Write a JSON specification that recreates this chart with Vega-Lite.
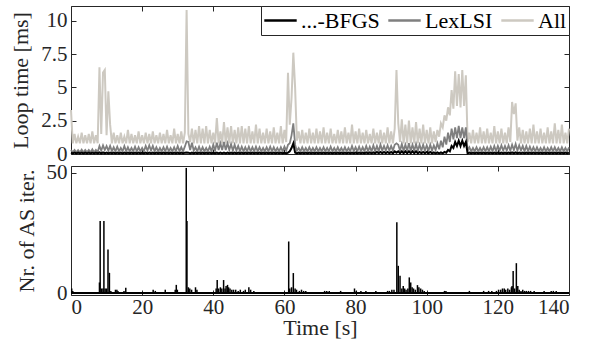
{
"$schema": "https://vega.github.io/schema/vega-lite/v6.json",
"padding": {"left": 9, "top": 5, "right": 20, "bottom": 5},
"background": "white",
"bounds": "flush",
"config": {
  "font": "Liberation Serif",
  "view": {"stroke": "#262626", "strokeWidth": 1},
  "axis": {"labelFont": "Liberation Serif", "labelFontSize": 21, "labelColor": "#262626", "titleFont": "Liberation Serif", "titleFontSize": 22, "titleFontWeight": "normal", "titleColor": "#262626", "grid": false, "domain": false, "tickColor": "#262626", "tickSize": -5, "tickWidth": 1, "labelPadding": 9, "titlePadding": 8},
  "legend": {"orient": "top-right", "offset": 0, "direction": "horizontal", "labelFont": "Liberation Serif", "labelFontSize": 22, "labelColor": "#000000", "symbolType": "stroke", "symbolSize": 1050, "symbolStrokeWidth": 2.5, "strokeColor": "#262626", "fillColor": "white", "padding": 2, "columnPadding": 7, "labelOffset": 3, "clipHeight": 25}
},
"datasets": {
"top": [
{"t":0,"A":3.3,"L":0.3,"B":0.1},{"t":0.5,"A":0.8,"L":0.12,"B":0.04},{"t":1,"A":1.5,"L":0.3,"B":0.1},{"t":1.5,"A":0.8,"L":0.12,"B":0.04},
{"t":2,"A":1.3,"L":0.28,"B":0.1},{"t":2.5,"A":0.8,"L":0.12,"B":0.04},{"t":3,"A":1.6,"L":0.32,"B":0.1},{"t":3.5,"A":0.8,"L":0.12,"B":0.04},
{"t":4,"A":1.4,"L":0.3,"B":0.1},{"t":4.5,"A":0.8,"L":0.12,"B":0.04},{"t":5,"A":1.5,"L":0.3,"B":0.1},{"t":5.5,"A":0.8,"L":0.12,"B":0.04},
{"t":6,"A":1.7,"L":0.35,"B":0.1},{"t":6.5,"A":0.8,"L":0.12,"B":0.04},{"t":7,"A":1.4,"L":0.3,"B":0.1},{"t":7.5,"A":0.8,"L":0.15,"B":0.04},
{"t":8,"A":6.5,"L":0.6,"B":0.12},{"t":8.5,"A":1.5,"L":0.25,"B":0.04},{"t":9,"A":6.1,"L":0.65,"B":0.12},{"t":9.5,"A":6.3,"L":0.3,"B":0.04},
{"t":10,"A":1.4,"L":0.6,"B":0.1},{"t":10.5,"A":4.7,"L":0.25,"B":0.04},{"t":11,"A":2.2,"L":0.6,"B":0.1},{"t":11.5,"A":0.8,"L":0.2,"B":0.04},
{"t":12,"A":1.6,"L":0.5,"B":0.1},{"t":12.5,"A":0.8,"L":0.2,"B":0.04},{"t":13,"A":1.4,"L":0.55,"B":0.1},{"t":13.5,"A":0.8,"L":0.2,"B":0.04},
{"t":14,"A":1.6,"L":0.45,"B":0.1},{"t":14.5,"A":0.8,"L":0.2,"B":0.04},{"t":15,"A":1.3,"L":0.6,"B":0.1},{"t":15.5,"A":0.8,"L":0.2,"B":0.04},
{"t":16,"A":1.8,"L":0.5,"B":0.1},{"t":16.5,"A":0.8,"L":0.2,"B":0.04},{"t":17,"A":1.5,"L":0.45,"B":0.1},{"t":17.5,"A":0.8,"L":0.2,"B":0.04},
{"t":18,"A":1.4,"L":0.55,"B":0.1},{"t":18.5,"A":0.8,"L":0.2,"B":0.04},{"t":19,"A":1.7,"L":0.5,"B":0.1},{"t":19.5,"A":0.8,"L":0.2,"B":0.04},
{"t":20,"A":1.4,"L":0.45,"B":0.1},{"t":20.5,"A":0.8,"L":0.2,"B":0.04},{"t":21,"A":1.6,"L":0.6,"B":0.1},{"t":21.5,"A":0.8,"L":0.25,"B":0.04},
{"t":22,"A":1.5,"L":0.65,"B":0.1},{"t":22.5,"A":0.8,"L":0.25,"B":0.04},{"t":23,"A":1.7,"L":0.6,"B":0.1},{"t":23.5,"A":0.8,"L":0.2,"B":0.04},
{"t":24,"A":1.4,"L":0.5,"B":0.1},{"t":24.5,"A":0.8,"L":0.2,"B":0.04},{"t":25,"A":1.6,"L":0.45,"B":0.1},{"t":25.5,"A":0.8,"L":0.2,"B":0.04},
{"t":26,"A":1.5,"L":0.5,"B":0.1},{"t":26.5,"A":0.8,"L":0.2,"B":0.04},{"t":27,"A":1.8,"L":0.55,"B":0.1},{"t":27.5,"A":0.8,"L":0.2,"B":0.04},
{"t":28,"A":1.4,"L":0.45,"B":0.1},{"t":28.5,"A":0.8,"L":0.2,"B":0.04},{"t":29,"A":1.9,"L":0.5,"B":0.1},{"t":29.5,"A":0.8,"L":0.2,"B":0.04},
{"t":30,"A":1.5,"L":0.6,"B":0.1},{"t":30.5,"A":0.8,"L":0.2,"B":0.04},{"t":31,"A":1.7,"L":0.5,"B":0.1},{"t":31.5,"A":0.8,"L":0.2,"B":0.04},
{"t":32,"A":1.6,"L":0.55,"B":0.1},{"t":32.5,"A":10.8,"L":0.95,"B":0.12},{"t":33,"A":1.5,"L":0.9,"B":0.1},{"t":33.5,"A":0.9,"L":0.3,"B":0.04},
{"t":34,"A":1.9,"L":0.85,"B":0.1},{"t":34.5,"A":0.8,"L":0.25,"B":0.04},{"t":35,"A":1.8,"L":0.5,"B":0.1},{"t":35.5,"A":0.8,"L":0.2,"B":0.04},
{"t":36,"A":2.1,"L":0.55,"B":0.1},{"t":36.5,"A":0.8,"L":0.2,"B":0.04},{"t":37,"A":1.9,"L":0.5,"B":0.1},{"t":37.5,"A":0.8,"L":0.2,"B":0.04},
{"t":38,"A":2.1,"L":0.45,"B":0.1},{"t":38.5,"A":0.8,"L":0.2,"B":0.04},{"t":39,"A":1.8,"L":0.55,"B":0.1},{"t":39.5,"A":0.8,"L":0.2,"B":0.04},
{"t":40,"A":1.6,"L":0.7,"B":0.1},{"t":40.5,"A":0.8,"L":0.25,"B":0.04},{"t":41,"A":2.7,"L":0.85,"B":0.1},{"t":41.5,"A":0.8,"L":0.3,"B":0.04},
{"t":42,"A":1.7,"L":0.8,"B":0.1},{"t":42.5,"A":0.8,"L":0.3,"B":0.04},{"t":43,"A":2.4,"L":0.9,"B":0.1},{"t":43.5,"A":0.8,"L":0.3,"B":0.04},
{"t":44,"A":2.0,"L":0.8,"B":0.1},{"t":44.5,"A":0.8,"L":0.3,"B":0.04},{"t":45,"A":2.1,"L":0.75,"B":0.1},{"t":45.5,"A":0.8,"L":0.25,"B":0.04},
{"t":46,"A":1.8,"L":0.7,"B":0.1},{"t":46.5,"A":0.8,"L":0.25,"B":0.04},{"t":47,"A":2.0,"L":0.6,"B":0.1},{"t":47.5,"A":0.8,"L":0.2,"B":0.04},
{"t":48,"A":2.1,"L":0.55,"B":0.1},{"t":48.5,"A":0.8,"L":0.2,"B":0.04},{"t":49,"A":1.9,"L":0.5,"B":0.1},{"t":49.5,"A":0.8,"L":0.2,"B":0.04},
{"t":50,"A":2.1,"L":0.55,"B":0.1},{"t":50.5,"A":0.8,"L":0.2,"B":0.04},{"t":51,"A":1.7,"L":0.5,"B":0.1},{"t":51.5,"A":0.8,"L":0.2,"B":0.04},
{"t":52,"A":2.2,"L":0.55,"B":0.1},{"t":52.5,"A":0.8,"L":0.2,"B":0.04},{"t":53,"A":1.9,"L":0.5,"B":0.1},{"t":53.5,"A":0.8,"L":0.2,"B":0.04},
{"t":54,"A":1.6,"L":0.45,"B":0.1},{"t":54.5,"A":0.8,"L":0.2,"B":0.04},{"t":55,"A":1.9,"L":0.5,"B":0.1},{"t":55.5,"A":0.8,"L":0.2,"B":0.04},
{"t":56,"A":1.7,"L":0.55,"B":0.1},{"t":56.5,"A":0.8,"L":0.2,"B":0.04},{"t":57,"A":2.0,"L":0.5,"B":0.1},{"t":57.5,"A":0.8,"L":0.2,"B":0.04},
{"t":58,"A":1.6,"L":0.45,"B":0.1},{"t":58.5,"A":0.8,"L":0.2,"B":0.04},{"t":59,"A":2.1,"L":0.5,"B":0.1},{"t":59.5,"A":0.8,"L":0.2,"B":0.04},
{"t":60,"A":1.8,"L":0.55,"B":0.1},{"t":60.5,"A":0.9,"L":0.25,"B":0.04},{"t":61,"A":6.1,"L":0.7,"B":0.1},{"t":61.5,"A":2.2,"L":0.8,"B":0.2},
{"t":62,"A":4.2,"L":1.4,"B":0.45},{"t":62.5,"A":7.6,"L":2.3,"B":0.8},{"t":63,"A":5.0,"L":0.7,"B":0.1},{"t":63.5,"A":1.0,"L":0.25,"B":0.04},
{"t":64,"A":1.7,"L":0.45,"B":0.1},{"t":64.5,"A":0.8,"L":0.2,"B":0.04},{"t":65,"A":1.8,"L":0.5,"B":0.1},{"t":65.5,"A":0.8,"L":0.2,"B":0.04},
{"t":66,"A":1.6,"L":0.45,"B":0.1},{"t":66.5,"A":0.8,"L":0.2,"B":0.04},{"t":67,"A":1.9,"L":0.5,"B":0.1},{"t":67.5,"A":0.8,"L":0.2,"B":0.04},
{"t":68,"A":1.6,"L":0.45,"B":0.1},{"t":68.5,"A":0.8,"L":0.2,"B":0.04},{"t":69,"A":1.9,"L":0.5,"B":0.1},{"t":69.5,"A":0.8,"L":0.2,"B":0.04},
{"t":70,"A":1.7,"L":0.45,"B":0.1},{"t":70.5,"A":0.8,"L":0.2,"B":0.04},{"t":71,"A":2.0,"L":0.5,"B":0.1},{"t":71.5,"A":0.8,"L":0.2,"B":0.04},
{"t":72,"A":1.6,"L":0.45,"B":0.1},{"t":72.5,"A":0.8,"L":0.2,"B":0.04},{"t":73,"A":1.9,"L":0.55,"B":0.1},{"t":73.5,"A":0.8,"L":0.2,"B":0.04},
{"t":74,"A":1.5,"L":0.45,"B":0.1},{"t":74.5,"A":0.8,"L":0.2,"B":0.04},{"t":75,"A":1.8,"L":0.5,"B":0.1},{"t":75.5,"A":0.8,"L":0.2,"B":0.04},
{"t":76,"A":1.7,"L":0.45,"B":0.1},{"t":76.5,"A":0.8,"L":0.2,"B":0.04},{"t":77,"A":2.0,"L":0.5,"B":0.1},{"t":77.5,"A":0.8,"L":0.2,"B":0.04},
{"t":78,"A":1.6,"L":0.45,"B":0.1},{"t":78.5,"A":0.8,"L":0.2,"B":0.04},{"t":79,"A":2.2,"L":0.6,"B":0.1},{"t":79.5,"A":0.8,"L":0.2,"B":0.04},
{"t":80,"A":1.7,"L":0.5,"B":0.1},{"t":80.5,"A":0.8,"L":0.2,"B":0.04},{"t":81,"A":1.9,"L":0.55,"B":0.1},{"t":81.5,"A":0.8,"L":0.2,"B":0.04},
{"t":82,"A":1.6,"L":0.5,"B":0.1},{"t":82.5,"A":0.8,"L":0.2,"B":0.04},{"t":83,"A":1.8,"L":0.6,"B":0.12},{"t":83.5,"A":0.8,"L":0.2,"B":0.05},
{"t":84,"A":1.5,"L":0.55,"B":0.12},{"t":84.5,"A":0.8,"L":0.2,"B":0.05},{"t":85,"A":1.9,"L":0.65,"B":0.12},{"t":85.5,"A":0.8,"L":0.2,"B":0.05},
{"t":86,"A":1.6,"L":0.6,"B":0.15},{"t":86.5,"A":0.8,"L":0.2,"B":0.05},{"t":87,"A":1.8,"L":0.7,"B":0.15},{"t":87.5,"A":0.8,"L":0.25,"B":0.05},
{"t":88,"A":1.6,"L":0.6,"B":0.15},{"t":88.5,"A":0.8,"L":0.25,"B":0.05},{"t":89,"A":2.0,"L":0.65,"B":0.15},{"t":89.5,"A":0.8,"L":0.25,"B":0.05},
{"t":90,"A":1.7,"L":0.6,"B":0.15},{"t":90.5,"A":0.8,"L":0.25,"B":0.05},{"t":91,"A":1.9,"L":0.7,"B":0.2},{"t":91.5,"A":6.3,"L":0.8,"B":0.1},
{"t":92,"A":2.3,"L":0.7,"B":0.2},{"t":92.5,"A":0.9,"L":0.25,"B":0.05},{"t":93,"A":2.6,"L":0.75,"B":0.2},{"t":93.5,"A":0.8,"L":0.25,"B":0.05},
{"t":94,"A":2.2,"L":0.7,"B":0.2},{"t":94.5,"A":0.8,"L":0.25,"B":0.05},{"t":95,"A":2.5,"L":0.8,"B":0.2},{"t":95.5,"A":0.8,"L":0.25,"B":0.05},
{"t":96,"A":2.0,"L":0.7,"B":0.2},{"t":96.5,"A":0.8,"L":0.25,"B":0.05},{"t":97,"A":2.4,"L":0.75,"B":0.2},{"t":97.5,"A":0.8,"L":0.25,"B":0.05},
{"t":98,"A":1.9,"L":0.7,"B":0.15},{"t":98.5,"A":0.8,"L":0.25,"B":0.05},{"t":99,"A":2.2,"L":0.7,"B":0.15},{"t":99.5,"A":0.8,"L":0.25,"B":0.05},
{"t":100,"A":1.8,"L":0.65,"B":0.15},{"t":100.5,"A":0.8,"L":0.25,"B":0.05},{"t":101,"A":2.0,"L":0.7,"B":0.15},{"t":101.5,"A":0.8,"L":0.25,"B":0.05},
{"t":102,"A":1.7,"L":0.65,"B":0.12},{"t":102.5,"A":0.9,"L":0.3,"B":0.05},{"t":103,"A":1.8,"L":0.8,"B":0.12},{"t":103.5,"A":1.3,"L":0.35,"B":0.05},
{"t":104,"A":2.3,"L":1.0,"B":0.12},{"t":104.5,"A":2.0,"L":0.5,"B":0.05},{"t":105,"A":2.9,"L":1.3,"B":0.15},{"t":105.5,"A":2.5,"L":0.7,"B":0.1},
{"t":106,"A":3.5,"L":1.6,"B":0.3},{"t":106.5,"A":2.9,"L":0.9,"B":0.2},{"t":107,"A":4.8,"L":1.9,"B":0.6},{"t":107.5,"A":3.4,"L":1.1,"B":0.45},
{"t":108,"A":6.2,"L":2.0,"B":0.9},{"t":108.5,"A":3.6,"L":1.2,"B":0.6},{"t":109,"A":6.0,"L":2.1,"B":1.0},{"t":109.5,"A":3.5,"L":1.2,"B":0.6},
{"t":110,"A":6.3,"L":2.0,"B":1.0},{"t":110.5,"A":3.6,"L":1.2,"B":0.6},{"t":111,"A":5.9,"L":2.0,"B":0.9},{"t":111.5,"A":0.9,"L":0.25,"B":0.05},
{"t":112,"A":1.6,"L":0.5,"B":0.1},{"t":112.5,"A":0.8,"L":0.2,"B":0.04},{"t":113,"A":1.8,"L":0.45,"B":0.1},{"t":113.5,"A":0.8,"L":0.2,"B":0.04},
{"t":114,"A":1.6,"L":0.5,"B":0.1},{"t":114.5,"A":0.8,"L":0.2,"B":0.04},{"t":115,"A":2.0,"L":0.45,"B":0.1},{"t":115.5,"A":0.8,"L":0.2,"B":0.04},
{"t":116,"A":1.7,"L":0.5,"B":0.1},{"t":116.5,"A":0.8,"L":0.2,"B":0.04},{"t":117,"A":1.9,"L":0.5,"B":0.1},{"t":117.5,"A":0.8,"L":0.2,"B":0.04},
{"t":118,"A":1.6,"L":0.55,"B":0.1},{"t":118.5,"A":0.8,"L":0.2,"B":0.04},{"t":119,"A":2.1,"L":0.6,"B":0.1},{"t":119.5,"A":0.8,"L":0.2,"B":0.04},
{"t":120,"A":1.7,"L":0.6,"B":0.1},{"t":120.5,"A":0.8,"L":0.25,"B":0.04},{"t":121,"A":1.9,"L":0.65,"B":0.1},{"t":121.5,"A":0.8,"L":0.25,"B":0.04},
{"t":122,"A":1.6,"L":0.6,"B":0.1},{"t":122.5,"A":0.8,"L":0.25,"B":0.04},{"t":123,"A":2.0,"L":0.65,"B":0.1},{"t":123.5,"A":0.9,"L":0.25,"B":0.04},
{"t":124,"A":3.9,"L":0.7,"B":0.12},{"t":124.5,"A":3.0,"L":0.3,"B":0.05},{"t":125,"A":3.8,"L":0.75,"B":0.12},{"t":125.5,"A":1.0,"L":0.25,"B":0.04},
{"t":126,"A":2.0,"L":0.65,"B":0.1},{"t":126.5,"A":0.8,"L":0.25,"B":0.04},{"t":127,"A":1.8,"L":0.6,"B":0.1},{"t":127.5,"A":0.8,"L":0.2,"B":0.04},
{"t":128,"A":1.7,"L":0.6,"B":0.1},{"t":128.5,"A":0.8,"L":0.2,"B":0.04},{"t":129,"A":1.9,"L":0.55,"B":0.1},{"t":129.5,"A":0.8,"L":0.2,"B":0.04},
{"t":130,"A":2.2,"L":0.5,"B":0.1},{"t":130.5,"A":0.8,"L":0.2,"B":0.04},{"t":131,"A":1.7,"L":0.5,"B":0.1},{"t":131.5,"A":0.8,"L":0.2,"B":0.04},
{"t":132,"A":1.9,"L":0.45,"B":0.1},{"t":132.5,"A":0.8,"L":0.2,"B":0.04},{"t":133,"A":1.6,"L":0.5,"B":0.1},{"t":133.5,"A":0.8,"L":0.2,"B":0.04},
{"t":134,"A":2.0,"L":0.45,"B":0.1},{"t":134.5,"A":0.8,"L":0.2,"B":0.04},{"t":135,"A":1.7,"L":0.5,"B":0.1},{"t":135.5,"A":0.8,"L":0.2,"B":0.04},
{"t":136,"A":2.3,"L":0.5,"B":0.1},{"t":136.5,"A":0.8,"L":0.2,"B":0.04},{"t":137,"A":1.8,"L":0.45,"B":0.1},{"t":137.5,"A":0.8,"L":0.2,"B":0.04},
{"t":138,"A":2.2,"L":0.5,"B":0.1},{"t":138.5,"A":0.8,"L":0.2,"B":0.04},{"t":139,"A":1.6,"L":0.45,"B":0.1},{"t":139.5,"A":0.8,"L":0.2,"B":0.04},
{"t":140,"A":1.9,"L":0.5,"B":0.1}
],
"bot": [
{"t":0.2,"n":2},{"t":0.5,"n":1},
{"t":8.0,"n":4.5},{"t":8.2,"n":30},{"t":8.6,"n":2},{"t":9.0,"n":2},{"t":9.25,"n":30},{"t":9.6,"n":2},{"t":10.0,"n":2},{"t":10.4,"n":18.2},{"t":10.8,"n":8.5},{"t":11.2,"n":1},
{"t":12.5,"n":1.5},{"t":12.9,"n":1.5},{"t":13.2,"n":1},{"t":14.9,"n":1},{"t":15.4,"n":2.3},
{"t":23.1,"n":1.5},{"t":23.7,"n":1},{"t":26.5,"n":1.5},{"t":29.3,"n":1.5},{"t":29.6,"n":3.5},{"t":29.9,"n":1.5},
{"t":32.4,"n":52},{"t":32.6,"n":30},{"t":33.0,"n":2.5},{"t":33.4,"n":2},{"t":33.9,"n":1.5},{"t":35.0,"n":2.5},{"t":35.4,"n":1.5},
{"t":40.8,"n":2},{"t":41.1,"n":5.5},{"t":41.5,"n":2},{"t":42.0,"n":2.5},{"t":42.4,"n":2},{"t":42.9,"n":5.5},{"t":43.3,"n":2},{"t":43.6,"n":3},{"t":44.0,"n":3.5},{"t":44.3,"n":2.5},{"t":44.7,"n":2},
{"t":45.2,"n":1.5},{"t":45.7,"n":1.5},{"t":46.3,"n":1.5},{"t":47.0,"n":1},{"t":47.6,"n":1.5},{"t":48.5,"n":1},{"t":49.0,"n":1.5},{"t":50.0,"n":2.5},{"t":50.5,"n":1.5},{"t":51.4,"n":1},
{"t":61.2,"n":21.5},{"t":61.5,"n":2},{"t":62.0,"n":2.5},{"t":62.5,"n":8.4},{"t":63.0,"n":2},{"t":63.4,"n":1.5},{"t":64.2,"n":1},{"t":64.8,"n":1.5},{"t":65.4,"n":1},{"t":66.0,"n":1},
{"t":71.3,"n":1},{"t":71.9,"n":1},{"t":72.6,"n":1},{"t":75.8,"n":1},{"t":79.7,"n":2},{"t":80.2,"n":1},{"t":81.5,"n":1},{"t":82.9,"n":1},{"t":85.7,"n":1},
{"t":89.0,"n":1},{"t":89.5,"n":1},{"t":90.2,"n":1.5},{"t":90.8,"n":1.5},{"t":91.6,"n":29.5},{"t":92.0,"n":11.4},{"t":92.5,"n":7.3},{"t":93.0,"n":2},{"t":93.4,"n":3},{"t":93.8,"n":2},{"t":94.2,"n":1.5},{"t":94.7,"n":2},
{"t":95.1,"n":6.6},{"t":95.5,"n":4.5},{"t":95.9,"n":2.5},{"t":96.3,"n":2},{"t":96.8,"n":1.5},{"t":97.4,"n":3.4},{"t":97.8,"n":2.5},{"t":98.3,"n":2},{"t":98.8,"n":1.5},{"t":99.3,"n":1},
{"t":105.0,"n":1},{"t":105.4,"n":1},{"t":112.0,"n":1},{"t":116.0,"n":1},{"t":117.4,"n":1},{"t":118.3,"n":1},
{"t":119.6,"n":1},{"t":120.2,"n":1.5},{"t":120.8,"n":1.5},{"t":121.3,"n":2},{"t":121.8,"n":2},{"t":122.2,"n":1.5},{"t":122.8,"n":2},{"t":123.3,"n":1.5},{"t":123.8,"n":2.5},{"t":124.0,"n":3},
{"t":124.3,"n":9.3},{"t":124.7,"n":2},{"t":125.2,"n":12.5},{"t":125.6,"n":3},{"t":126.0,"n":1.5},{"t":126.5,"n":1},{"t":127.0,"n":1.5},{"t":127.5,"n":1},{"t":128.0,"n":1},{"t":128.6,"n":1},{"t":129.2,"n":1},
{"t":130.2,"n":1},{"t":133.0,"n":1},{"t":135.0,"n":1},{"t":135.6,"n":1},{"t":136.4,"n":1}
]
},
"spacing": 12,
"vconcat": [
{
  "width": 498, "height": 148,
  "data": {"name": "top"},
  "layer": [
    {"mark": {"type": "line", "strokeWidth": 2},
     "encoding": {
       "x": {"field": "t", "type": "quantitative", "scale": {"domain": [0, 140], "nice": false}, "axis": {"labels": false, "title": null, "values": [0,20,40,60,80,100,120,140]}},
       "y": {"field": "A", "type": "quantitative", "scale": {"domain": [0, 11.1], "nice": false}, "axis": {"title": "Loop time [ms]", "values": [0, 2.5, 5, 7.5, 10], "labelExpr": "'' + datum.value"}},
       "color": {"datum": "All", "type": "nominal", "scale": {"domain": ["...-BFGS", "LexLSI", "All"], "range": ["#000000", "#7f7f7f", "#cdc9c1"]}, "legend": {"title": null}}
     }},
    {"mark": {"type": "line", "strokeWidth": 1.8},
     "encoding": {
       "x": {"field": "t", "type": "quantitative", "axis": null},
       "y": {"field": "L", "type": "quantitative", "axis": null},
       "color": {"datum": "LexLSI", "type": "nominal"}
     }},
    {"mark": {"type": "line", "strokeWidth": 2},
     "encoding": {
       "x": {"field": "t", "type": "quantitative", "axis": {"orient": "top", "labels": false, "title": null, "values": [0,20,40,60,80,100,120,140]}},
       "y": {"field": "B", "type": "quantitative", "axis": {"orient": "right", "labels": false, "title": null, "values": [0, 2.5, 5, 7.5, 10]}},
       "color": {"datum": "...-BFGS", "type": "nominal"}
     }}
  ],
  "resolve": {"axis": {"x": "independent", "y": "independent"}}
},
{
  "width": 498, "height": 129,
  "data": {"name": "bot"},
  "layer": [
    {"mark": {"type": "rule", "color": "#000000", "strokeWidth": 1.5},
     "encoding": {
       "x": {"field": "t", "type": "quantitative", "scale": {"domain": [0, 140], "nice": false}, "axis": {"title": "Time [s]", "values": [0,20,40,60,80,100,120,140], "titlePadding": 0, "labelPadding": 6}},
       "y": {"field": "n", "type": "quantitative", "scale": {"domain": [-0.7, 52.8], "nice": false}, "axis": {"title": "Nr. of AS iter.", "values": [0, 50]}},
       "y2": {"datum": 0}
     }},
    {"mark": {"type": "rule", "color": "#000000", "strokeWidth": 1.5},
     "encoding": {"y": {"datum": 0, "type": "quantitative", "axis": null}}},
    {"mark": {"type": "rule", "opacity": 0},
     "encoding": {
       "x": {"field": "t", "type": "quantitative", "axis": {"orient": "top", "labels": false, "title": null, "values": [0,20,40,60,80,100,120,140]}},
       "y": {"field": "n", "type": "quantitative", "axis": {"orient": "right", "labels": false, "title": null, "values": [0, 50]}}
     }}
  ],
  "resolve": {"axis": {"x": "independent", "y": "independent"}}
}
]
}
